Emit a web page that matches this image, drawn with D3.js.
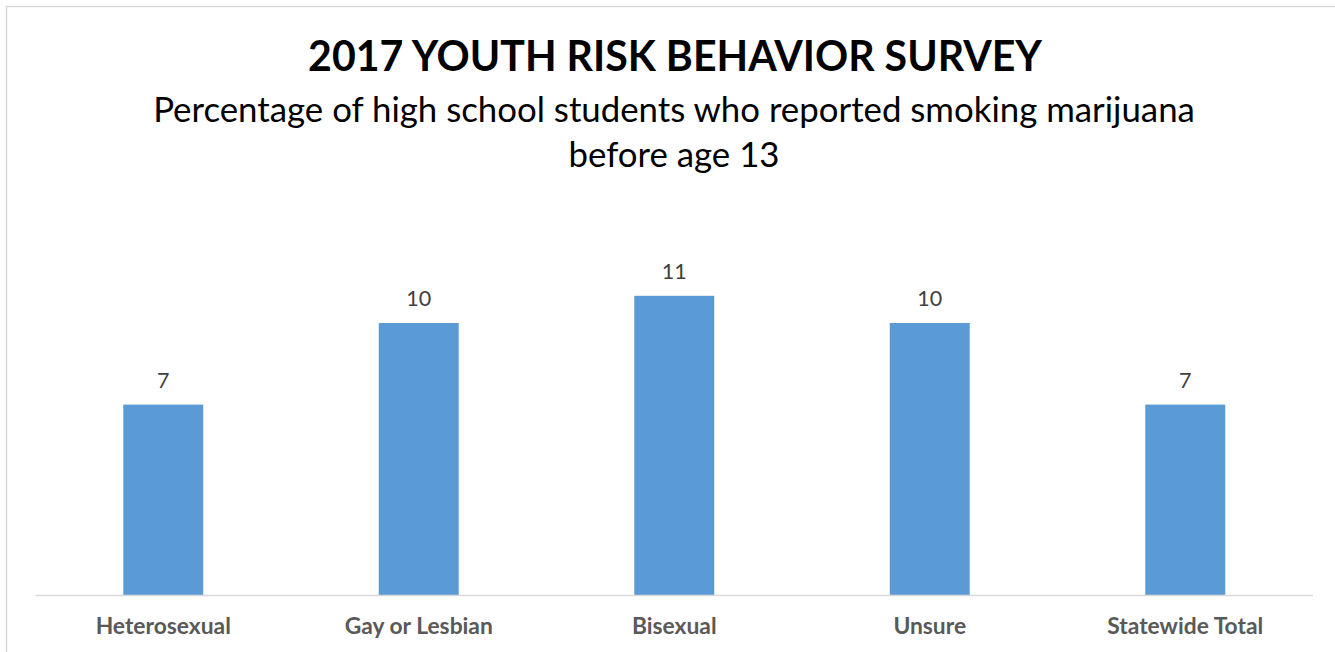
<!DOCTYPE html>
<html>
<head>
<meta charset="utf-8">
<script src="https://cdn.jsdelivr.net/npm/d3@7/dist/d3.min.js"></script>
<style>
  html, body { margin: 0; padding: 0; background: #ffffff; }
  svg { display: block; }
</style>
</head>
<body>
<script>
// Survey data: share of students reporting marijuana use before age 13
const categories = ["Heterosexual", "Gay or Lesbian", "Bisexual", "Unsure", "Statewide Total"];
const values = [7, 10, 11, 10, 7];
const titleText = "2017 YOUTH RISK BEHAVIOR SURVEY";
const subtitleLines = ["Percentage of high school students who reported smoking marijuana", "before age 13"];

const W = 1335, H = 652;
const FONT = "Lato, 'Open Sans', sans-serif";

const svg = d3.select("body").append("svg")
  .attr("width", W).attr("height", H);

// chart area frame
svg.append("rect")
  .attr("x", 6.5).attr("y", 6.5)
  .attr("width", W + 20).attr("height", H + 20)
  .attr("fill", "#ffffff")
  .attr("stroke", "#d9d9d9").attr("stroke-width", 1.5);

const x = d3.scaleBand()
  .domain(categories)
  .range([35.5, 1313])
  .paddingInner(0.687)
  .paddingOuter(0.3435);

const y = d3.scaleLinear()
  .domain([0, 12])
  .range([595, 595 - 12 * 27.2]);

// size a text element so its rendered width equals the given width
function fitWidth(sel, target) {
  const node = sel.node();
  const size = parseFloat(sel.attr("font-size"));
  const w = node.getComputedTextLength();
  sel.attr("font-size", (size * target / w).toFixed(2));
  return size * target / w;
}

// title
const title = svg.append("text")
  .attr("x", 675).attr("y", 71)
  .attr("text-anchor", "middle")
  .attr("font-family", FONT).attr("font-weight", 700)
  .attr("font-size", 45).attr("fill", "#000000")
  .text(titleText);
fitWidth(title, 734);

// subtitle
const sub1 = svg.append("text")
  .attr("x", 674).attr("y", 122)
  .attr("text-anchor", "middle")
  .attr("font-family", FONT).attr("font-weight", 400)
  .attr("font-size", 34).attr("fill", "#000000")
  .text(subtitleLines[0]);
const subSize = fitWidth(sub1, 1042);
svg.append("text")
  .attr("x", 674).attr("y", 167)
  .attr("text-anchor", "middle")
  .attr("font-family", FONT).attr("font-weight", 400)
  .attr("font-size", subSize.toFixed(2)).attr("fill", "#000000")
  .text(subtitleLines[1]);

// bars
const data = categories.map((c, i) => ({ c, v: values[i] }));
svg.append("g").selectAll("rect")
  .data(data).join("rect")
  .attr("x", d => x(d.c))
  .attr("width", x.bandwidth())
  .attr("y", d => y(d.v))
  .attr("height", d => y(0) - y(d.v))
  .attr("fill", "#5b9bd5");

// category axis
const axis = svg.append("g")
  .attr("transform", `translate(0,${y(0)})`)
  .call(d3.axisBottom(x).tickSize(0).tickPadding(0));
axis.select(".domain").attr("stroke", "#d9d9d9").attr("stroke-width", 1.5)
  .attr("d", `M${x.range()[0]},0.5H${x.range()[1]}`);
const catText = axis.selectAll(".tick text")
  .attr("dy", null)
  .attr("y", 39)
  .attr("font-family", FONT).attr("font-weight", 700)
  .attr("font-size", 20).attr("fill", "#595959");
const refLabel = catText.filter(d => d === "Statewide Total");
const catSize = fitWidth(refLabel, 156);
catText.attr("font-size", catSize.toFixed(2));

// value labels
svg.append("g").selectAll("text")
  .data(data).join("text")
  .attr("x", d => x(d.c) + x.bandwidth() / 2)
  .attr("y", d => y(d.v) - 17)
  .attr("text-anchor", "middle")
  .attr("font-family", FONT).attr("font-weight", 400)
  .attr("font-size", 21.5).attr("fill", "#404040")
  .text(d => d.v);
</script>
</body>
</html>
